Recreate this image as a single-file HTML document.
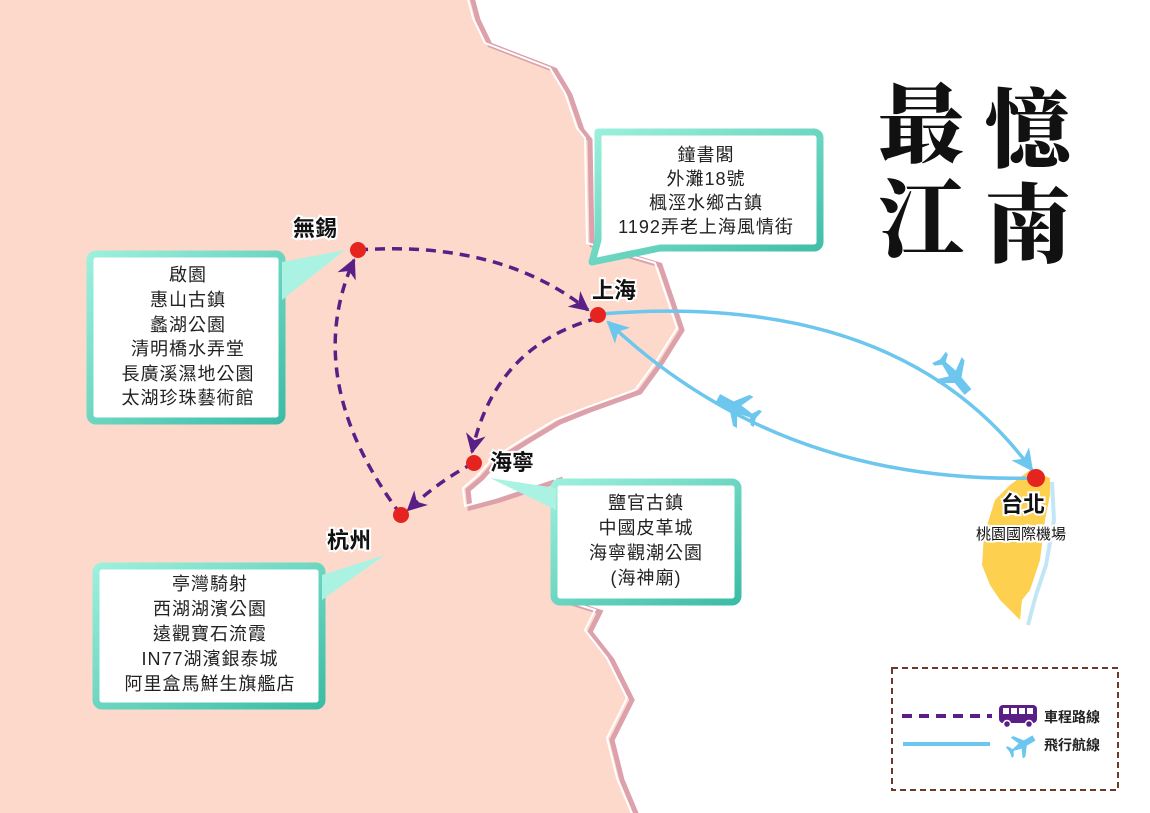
<!DOCTYPE html>
<html><head><meta charset="utf-8"><style>
html,body{margin:0;padding:0;background:#fff;}
svg{display:block;font-family:"Liberation Sans","Noto Sans CJK TC",sans-serif;}
.lbl{font-size:22px;font-weight:bold;fill:#111;}
.bx{font-size:18px;fill:#222;letter-spacing:1px;}
</style></head><body>
<svg width="1150" height="813" viewBox="0 0 1150 813" xmlns="http://www.w3.org/2000/svg">
<defs>
<linearGradient id="tg" x1="0" y1="0" x2="1" y2="1"><stop offset="0" stop-color="#9cf0dc"/><stop offset="1" stop-color="#3cbca6"/></linearGradient>
<marker id="pa" markerWidth="24" markerHeight="24" refX="18" refY="12" orient="auto" markerUnits="userSpaceOnUse"><path d="M0,2 L20,12 L0,22 L6,12z" fill="#5a1f86"/></marker>
<marker id="ba" markerWidth="26" markerHeight="26" refX="20" refY="13" orient="auto" markerUnits="userSpaceOnUse"><path d="M0,2 L22,13 L0,24 L6,13z" fill="#6cc6ee"/></marker>
</defs>
<!-- land -->
<path d="M-10,-10 L470,-10 L478,20 L490,45 L555,70 L570,95 L582,130 L590,140 L592,245 L660,265 L672,300 L682,330 L662,362 L640,392 L590,410 L560,422 L530,440 L498,460 L482,478 L468,490 L470,508 L500,500 L530,490 L560,480 L562,600 L600,612 L590,632 L612,660 L632,700 L612,740 L622,780 L640,823 L-10,823Z" fill="#fdd9cc" stroke="#dca1ab" stroke-width="5"/>
<path d="M470,-10 L478,20 L490,45 L555,70 L570,95 L582,130 L590,140 L592,245 L660,265 L672,300 L682,330 L662,362 L640,392 L590,410 L560,422 L530,440 L498,460 L482,478 L468,490 L470,508 L500,500 L530,490 L560,480 L562,600 L600,612 L590,632 L612,660 L632,700 L612,740 L622,780 L640,823" fill="none" stroke="#fff" stroke-width="2" transform="translate(-5,-2)"/>
<!-- Taiwan -->
<path d="M1030,470 L1050,478 L1050,495 L1045,520 L1040,560 L1030,590 L1022,600 L1020,620 L1012,612 L1000,600 L990,585 L982,565 L984,535 L995,500 L1010,485Z" fill="#fdd04f"/>
<path d="M1052,482 L1054,520 L1046,565 L1036,595 L1028,625" fill="none" stroke="#c2e6f4" stroke-width="4"/>
<!-- title -->
<g font-family="'Noto Serif CJK SC','Noto Sans CJK TC',serif" font-weight="900" font-size="86" fill="#111">
<text x="878" y="155">最</text><text x="985" y="160">憶</text>
<text x="878" y="250">江</text><text x="985" y="255">南</text>
</g>
<!-- boxes -->
<g stroke="url(#tg)" stroke-width="7" fill="#fff">
<path d="M598,132 H814 a6,6 0 0 1 6,6 V242 a6,6 0 0 1 -6,6 H660 L592,262 L598,240 Z" stroke-linejoin="round"/>
<path d="M96,254 H276 a6,6 0 0 1 6,6 V415 a6,6 0 0 1 -6,6 H96 a6,6 0 0 1 -6,-6 V260 a6,6 0 0 1 6,-6Z"/>
<path d="M102,566 H316 a6,6 0 0 1 6,6 V700 a6,6 0 0 1 -6,6 H102 a6,6 0 0 1 -6,-6 V572 a6,6 0 0 1 6,-6Z"/>
<path d="M560,482 H732 a6,6 0 0 1 6,6 V596 a6,6 0 0 1 -6,6 H560 a6,6 0 0 1 -6,-6 V488 a6,6 0 0 1 6,-6Z"/>
</g>
<path d="M282,262 L345,250 L282,300Z" fill="#aaf3e3"/>
<path d="M322,575 L385,555 L322,600Z" fill="#aaf3e3"/>
<path d="M556,488 L490,478 L556,510Z" fill="#aaf3e3"/>
<g class="bx" text-anchor="middle">
<text x="706" y="161">鐘書閣</text><text x="706" y="185">外灘18號</text><text x="706" y="209">楓涇水鄉古鎮</text><text x="706" y="233">1192弄老上海風情街</text>
<text x="188" y="281">啟園</text><text x="188" y="306">惠山古鎮</text><text x="188" y="331">蠡湖公園</text><text x="188" y="355">清明橋水弄堂</text><text x="188" y="380">長廣溪濕地公園</text><text x="188" y="404">太湖珍珠藝術館</text>
<text x="210" y="590">亭灣騎射</text><text x="210" y="615">西湖湖濱公園</text><text x="210" y="640">遠觀寶石流霞</text><text x="210" y="665">IN77湖濱銀泰城</text><text x="210" y="690">阿里盒馬鮮生旗艦店</text>
<text x="646" y="509">鹽官古鎮</text><text x="646" y="534">中國皮革城</text><text x="646" y="559">海寧觀潮公園</text><text x="646" y="584">(海神廟)</text>
</g>
<!-- routes -->
<g fill="none" stroke="#5a1f86" stroke-width="3.5" stroke-dasharray="10,7">
<path d="M358,250 Q500,240 588,310" marker-end="url(#pa)"/>
<path d="M598,318 Q495,345 472,452" marker-end="url(#pa)"/>
<path d="M474,463 Q440,480 408,510" marker-end="url(#pa)"/>
<path d="M401,515 Q300,380 354,260" marker-end="url(#pa)"/>
</g>
<g fill="none" stroke="#6cc6ee" stroke-width="3.5">
<path d="M600,314 Q900,290 1032,470" marker-end="url(#ba)"/>
<path d="M1036,478 Q780,485 608,322" marker-end="url(#ba)"/>
</g>
<g fill="#6cc6ee">
<path d="M0,-4 L14,-4 L24,-16 L28,-16 L22,-4 L34,-2 L38,-8 L41,-8 L39,0 L41,8 L38,8 L34,2 L22,4 L28,16 L24,16 L14,4 L0,4Z" transform="translate(968,392) rotate(230) scale(1.1)"/>
<path d="M0,-4 L14,-4 L24,-16 L28,-16 L22,-4 L34,-2 L38,-8 L41,-8 L39,0 L41,8 L38,8 L34,2 L22,4 L28,16 L24,16 L14,4 L0,4Z" transform="translate(718,398) rotate(28) scale(1.1)"/>
</g>
<g fill="#e52420">
<circle cx="358" cy="250" r="8"/><circle cx="598" cy="315" r="8"/><circle cx="474" cy="463" r="8"/><circle cx="401" cy="515" r="8"/><circle cx="1036" cy="478" r="9"/>
</g>
<g class="lbl" stroke="#fff" stroke-width="4" paint-order="stroke">
<text x="293" y="236">無錫</text><text x="592" y="298">上海</text><text x="490" y="470">海寧</text><text x="327" y="548">杭州</text><text x="1001" y="512">台北</text>
<text x="976" y="539" font-size="15" font-weight="normal">桃園國際機場</text>
</g>
<!-- legend -->
<rect x="892" y="668" width="226" height="122" fill="#fff" stroke="#6b3a2a" stroke-width="2" stroke-dasharray="6,4"/>
<line x1="902" y1="716" x2="992" y2="716" stroke="#5a1f86" stroke-width="4" stroke-dasharray="10,7"/>
<rect x="999" y="705" width="38" height="18" rx="4" fill="#5a1f86"/>
<g fill="#fff"><rect x="1003" y="708" width="6" height="6"/><rect x="1011" y="708" width="6" height="6"/><rect x="1019" y="708" width="6" height="6"/><rect x="1027" y="708" width="6" height="6"/></g>
<circle cx="1007" cy="724" r="3.5" fill="#5a1f86" stroke="#fff" stroke-width="1.5"/><circle cx="1029" cy="724" r="3.5" fill="#5a1f86" stroke="#fff" stroke-width="1.5"/>
<line x1="903" y1="744" x2="990" y2="744" stroke="#6cc6ee" stroke-width="4"/>
<path d="M0,-3 L10,-3 L17,-12 L20,-12 L16,-3 L24,-1 L27,-6 L29,-6 L28,0 L29,6 L27,6 L24,1 L16,3 L20,12 L17,12 L10,3 L0,3Z" fill="#6cc6ee" transform="translate(1034,738) rotate(150)"/>
<text x="1044" y="722" font-size="14" font-weight="bold" fill="#222">車程路線</text>
<text x="1044" y="750" font-size="14" font-weight="bold" fill="#222">飛行航線</text>
</svg>
</body></html>
